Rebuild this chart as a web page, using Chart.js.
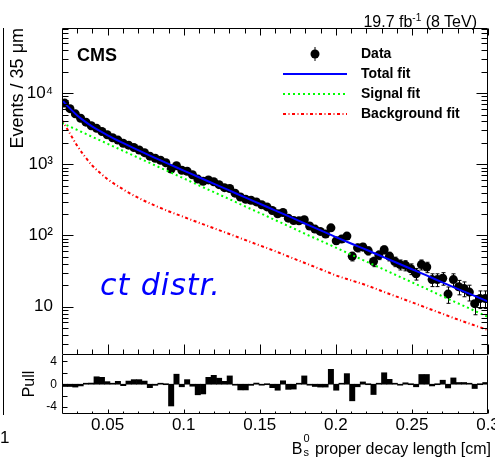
<!DOCTYPE html>
<html lang="en">
<head>
<meta charset="UTF-8">
<title>Bs proper decay length</title>
<script src="https://cdn.jsdelivr.net/npm/chart.js"></script>
<style>
  body { margin: 0; background: #fff; font-family: 'Liberation Sans', Arial, sans-serif; }
  #wrap { position: relative; width: 495px; height: 462px; overflow: hidden; background: #fff; }
  canvas { position: absolute; left: 0; }
  .txt { position: absolute; white-space: nowrap; color: #000; }
  .leg { position: absolute; left: 361px; font-size: 14px; font-weight: bold; line-height: 20px; }
  .rot { position: absolute; transform-origin: 0 0; white-space: nowrap; height: 20px; line-height: 20px; }
</style>
</head>
<body>
<div id="wrap">
  <canvas id="mainChart" width="495" height="360" style="top:0"></canvas>
  <canvas id="pullChart" width="495" height="122" style="top:340px"></canvas>

  <!-- piece of the neighbouring panel on the left -->
  <div style="position:absolute;left:3px;top:28px;height:387px;border-left:1px solid #000"></div>
  <div class="txt" style="left:0;top:428px;font-size:17px;line-height:20px">1</div>

  <div class="txt" style="right:18px;top:8px;font-size:16px;line-height:20px">19.7 fb<sup style="font-size:10px">-1</sup> (8 TeV)</div>
  <div class="txt" style="left:77px;top:44px;font-size:18px;font-weight:bold;line-height:22px">CMS</div>

  <svg style="position:absolute;left:278px;top:44px" width="72" height="80">
    <line x1="37" y1="3" x2="37" y2="17" stroke="#000" stroke-width="1"/>
    <circle cx="37" cy="10" r="4.5" fill="#000"/>
    <line x1="5" y1="30" x2="69" y2="30" stroke="#0000ff" stroke-width="2"/>
    <line x1="5" y1="50" x2="69" y2="50" stroke="#00ff00" stroke-width="2" stroke-dasharray="2 3"/>
    <line x1="5" y1="70" x2="69" y2="70" stroke="#ff0000" stroke-width="2" stroke-dasharray="3 2.5 1 2.5"/>
  </svg>
  <div class="txt leg" style="top:43px">Data</div>
  <div class="txt leg" style="top:63px">Total fit</div>
  <div class="txt leg" style="top:83px">Signal fit</div>
  <div class="txt leg" style="top:103px">Background fit</div>

  <div class="txt" style="left:100px;top:270px;font-family:'DejaVu Sans',sans-serif;font-style:italic;font-size:30px;line-height:30px;letter-spacing:1px;color:#0000ff">ct distr.</div>

  <div class="rot" style="left:17px;top:28px;width:160px;text-align:right;font-size:18px;transform:rotate(-90deg) translate(-160px,-10px)">Events / 35 μm</div>
  <div class="rot" style="left:29px;top:354px;width:60px;text-align:center;font-size:16px;transform:rotate(-90deg) translate(-60px,-10px)">Pull</div>

  <div class="txt" style="right:4px;top:438px;font-size:16px;line-height:20px">B<span style="display:inline-block;position:relative;width:8px;height:16px"><span style="position:absolute;left:1px;top:-5px;font-size:11px;line-height:11px">0</span><span style="position:absolute;left:1px;top:9px;font-size:11px;line-height:11px">s</span></span> proper decay length [cm]</div>
</div>

<script>
  // bins of 35 um, centres in cm
  const binCenters = [
    0.02175, 0.02525, 0.02875, 0.03225, 0.03575, 0.03925, 0.04275, 0.04625, 0.04975, 0.05325,
    0.05675, 0.06025, 0.06375, 0.06725, 0.07075, 0.07425, 0.07775, 0.08125, 0.08475, 0.08825,
    0.09175, 0.09525, 0.09875, 0.10225, 0.10575, 0.10925, 0.11275, 0.11625, 0.11975, 0.12325,
    0.12675, 0.13025, 0.13375, 0.13725, 0.14075, 0.14425, 0.14775, 0.15125, 0.15475, 0.15825,
    0.16175, 0.16525, 0.16875, 0.17225, 0.17575, 0.17925, 0.18275, 0.18625, 0.18975, 0.19325,
    0.19675, 0.20025, 0.20375, 0.20725, 0.21075, 0.21425, 0.21775, 0.22125, 0.22475, 0.22825,
    0.23175, 0.23525, 0.23875, 0.24225, 0.24575, 0.24925, 0.25275, 0.25625, 0.25975, 0.26325,
    0.26675, 0.27025, 0.27375, 0.27725, 0.28075, 0.28425, 0.28775, 0.29125, 0.29475, 0.29825
  ];
  const events = [
    7244, 6050, 5122, 4437, 3914, 3479, 3199, 2895, 2599, 2363,
    2191, 1977, 1856, 1720, 1588, 1457, 1302, 1218, 1138, 1052,
    856, 957, 826, 800, 712, 620, 577, 604, 569, 518,
    470, 457, 393, 347, 322, 312, 296, 270, 252, 224,
    202, 210, 175, 162, 161, 166, 136, 123, 114, 105,
    128, 84, 89, 98, 51, 67, 69, 61, 43, 53,
    63, 51, 43, 39, 38, 34, 29, 39, 36, 24,
    24, 25, 15, 24, 19, 18, 16, 11, 13, 13
  ];
  const pulls = [
    -0.4, -0.4, -0.5, -0.3, 0.1, 0.2, 1.3, 1.2, 0.45, 0.05,
    0.5, -0.25, 0.55, 0.8, 0.8, 0.55, -0.6, -0.2, 0.1, 0,
    -3.8, 1.75, -0.45, 0.8, -0.35, -1.85, -1.7, 1.2, 1.55, 1.05,
    0.5, 1.45, -0.1, -1.0, -1.0, -0.2, 0.2, -0.1, 0, -0.6,
    -1.05, 0.6, -0.9, -0.85, 0.05, 1.45, -0.15, -0.4, -0.5, -0.5,
    2.6, -1.05, 0.1, 1.85, -2.9, -0.45, 0.4, 0, -1.8, 0.05,
    2.0, 0.85, 0.05, -0.1, 0.25, 0, -0.45, 1.7, 1.7, -0.3,
    0, 0.7, -0.65, 1.1, 0.3, 0.3, 0.15, -0.75, 0, 0.3
  ];

  // fit curves sampled along x
  const fitX = [0.02, 0.025, 0.03, 0.035, 0.04, 0.045, 0.05, 0.06, 0.07, 0.08, 0.09, 0.10,
    0.11, 0.12, 0.13, 0.14, 0.15, 0.16, 0.17, 0.18, 0.19, 0.20, 0.21, 0.22, 0.23, 0.24,
    0.25, 0.26, 0.27, 0.28, 0.29, 0.30];
  const totalFit = [7971, 6152, 4861, 4004, 3382, 2932, 2558, 1999, 1580, 1260, 1012, 816,
    657, 531, 429, 345, 279, 225, 182, 146, 118, 95, 77, 63, 51, 41.3,
    33.5, 27.2, 21.9, 17.8, 14.5, 11.8];
  const signalFit = [3802, 3398, 3041, 2716, 2427, 2173, 1941, 1552, 1241, 991, 793, 634,
    506, 405, 324, 258, 207, 165, 132, 105, 84.3, 67.4, 53.8, 43.0, 34.4, 27.5,
    22.0, 17.6, 14.0, 11.2, 8.97, 7.16];
  const bkgFit = [4169, 2754, 1820, 1288, 955, 759, 617, 447, 339, 269, 219, 182,
    151, 126, 105, 87.1, 72.4, 60.3, 49.5, 40.7, 33.5, 27.5, 23.4, 20.0, 16.6, 13.8,
    11.5, 9.55, 7.94, 6.61, 5.56, 4.68];

  // axes
  const xMajor = [0.05, 0.1, 0.15, 0.2, 0.25, 0.3];
  const xLabels = ['0.05', '0.1', '0.15', '0.2', '0.25', '0.3'];
  const xMinor = [0.03, 0.04, 0.06, 0.07, 0.08, 0.09, 0.11, 0.12, 0.13, 0.14, 0.16, 0.17,
    0.18, 0.19, 0.21, 0.22, 0.23, 0.24, 0.26, 0.27, 0.28, 0.29];
  const yMajor = [10, 100, 1000, 10000];
  const yLabels = ['10', '10²', '10³', '10⁴'];
  const yMinor = [3, 4, 5, 6, 7, 8, 9, 20, 30, 40, 50, 60, 70, 80, 90,
    200, 300, 400, 500, 600, 700, 800, 900, 2000, 3000, 4000, 5000, 6000, 7000, 8000, 9000,
    20000, 30000, 40000, 50000, 60000, 70000, 80000];
  const pullTicks = [-4, -2, 0, 2, 4];
  const pullLabels = ['-4', '-2', '0', '2', '4'];

  const FONT = "'Liberation Sans', Arial, sans-serif";

  // ROOT style frame with inward ticks
  const framePlugin = {
    id: 'frame',
    afterDraw(chart, args, o) {
      const { ctx, chartArea: a, scales } = chart;
      const L = Math.round(a.left) + 0.5, R = Math.round(a.right) - 0.5;
      const T = Math.round(a.top) + 0.5, B = Math.round(a.bottom) - 0.5;
      ctx.save();
      ctx.strokeStyle = '#000';
      ctx.lineWidth = 1;
      ctx.beginPath();
      ctx.moveTo(L, o.top ? T : T - 0.5);
      ctx.lineTo(L, B); ctx.lineTo(R, B); ctx.lineTo(R, T);
      if (o.top) ctx.lineTo(L, T);
      const xt = (vals, len, lenTop) => vals.forEach(v => {
        const p = Math.round(scales.x.getPixelForValue(v)) + 0.5;
        ctx.moveTo(p, B); ctx.lineTo(p, B - len);
        if (lenTop) { ctx.moveTo(p, T); ctx.lineTo(p, T + lenTop); }
      });
      const yt = (vals, len, lenRight) => vals.forEach(v => {
        const p = Math.round(scales.y.getPixelForValue(v)) + 0.5;
        ctx.moveTo(L, p); ctx.lineTo(L + len, p);
        if (lenRight) { ctx.moveTo(R, p); ctx.lineTo(R - lenRight, p); }
      });
      xt(xMajor, o.xMaj[0], o.xMaj[1]);
      xt(xMinor, o.xMin[0], o.xMin[1]);
      yt(o.yMajor, o.yMaj[0], o.yMaj[1]);
      if (o.yMinor) yt(o.yMinor, o.yMin[0], o.yMin[1]);
      ctx.stroke();
      ctx.restore();
    }
  };

  const errorBars = {
    id: 'errorBars',
    afterDatasetDraw(chart, args) {
      if (args.index !== 0) return;
      const { ctx, chartArea: a, scales: { x, y } } = chart;
      ctx.save();
      ctx.beginPath();
      ctx.rect(a.left, a.top, a.right - a.left, a.bottom - a.top);
      ctx.clip();
      ctx.strokeStyle = '#000';
      ctx.lineWidth = 1;
      ctx.beginPath();
      events.forEach((n, i) => {
        const e = Math.sqrt(n);
        const px = Math.round(x.getPixelForValue(binCenters[i])) + 0.5;
        const y1 = y.getPixelForValue(n + e), y2 = y.getPixelForValue(n - e);
        ctx.moveTo(px, y1); ctx.lineTo(px, y2);
        ctx.moveTo(px - 2, y1); ctx.lineTo(px + 2, y1);
        ctx.moveTo(px - 2, y2); ctx.lineTo(px + 2, y2);
      });
      ctx.stroke();
      ctx.restore();
    }
  };

  const noPad = s => { s.paddingTop = 0; s.paddingBottom = 0; s.paddingLeft = 0; s.paddingRight = 0; };
  const fitLine = (label, vals, color, dash, order) => ({
    label, data: fitX.map((x, i) => ({ x, y: vals[i] })), showLine: true,
    borderColor: color, borderWidth: 2, borderDash: dash, pointRadius: 0,
    cubicInterpolationMode: 'monotone', fill: false, order
  });

  new Chart(document.getElementById('mainChart'), {
    type: 'scatter',
    data: {
      datasets: [
        { label: 'Data', data: binCenters.map((x, i) => ({ x, y: events[i] })),
          pointRadius: 4.5, pointBorderWidth: 0, backgroundColor: '#000', borderColor: '#000', order: 4 },
        fitLine('Total fit', totalFit, '#0000ff', [], 1),
        fitLine('Signal fit', signalFit, '#00ff00', [2, 3], 2),
        fitLine('Background fit', bkgFit, '#ff0000', [3, 2.5, 1, 2.5], 3)
      ]
    },
    options: {
      responsive: false, animation: false, events: [],
      layout: { padding: { top: 28, right: 7, bottom: 5, left: 0 } },
      plugins: {
        legend: { display: false }, tooltip: { enabled: false },
        frame: { top: true, yMajor, yMinor, xMaj: [10, 7], xMin: [5, 5], yMaj: [11, 11], yMin: [6, 6] }
      },
      scales: {
        x: { type: 'linear', min: 0.02, max: 0.3, display: false },
        y: {
          type: 'logarithmic', min: 2.09, max: 82300, bounds: 'data',
          grid: { display: false, drawTicks: false }, border: { display: false },
          ticks: { color: '#000', font: { family: FONT, size: 17 }, padding: 9,
            callback: v => yLabels[yMajor.indexOf(v)] },
          afterBuildTicks: s => { s.ticks = yMajor.map(v => ({ value: v })); },
          afterFit: s => { s.width = 62; noPad(s); }
        }
      }
    },
    plugins: [errorBars, framePlugin]
  });

  new Chart(document.getElementById('pullChart'), {
    type: 'bar',
    data: {
      datasets: [{ data: binCenters.map((x, i) => ({ x, y: pulls[i] })),
        backgroundColor: '#000', borderWidth: 0, barPercentage: 1, categoryPercentage: 1, minBarLength: 1 }]
    },
    options: {
      responsive: false, animation: false, events: [],
      layout: { padding: { top: 15, right: 7, bottom: 0, left: 0 } },
      plugins: {
        legend: { display: false }, tooltip: { enabled: false },
        frame: { top: false, yMajor: pullTicks, xMaj: [4, 0], xMin: [2, 0], yMaj: [5, 0] }
      },
      scales: {
        x: {
          type: 'linear', min: 0.02, max: 0.3, offset: false,
          grid: { display: false, drawTicks: false }, border: { display: false },
          ticks: { color: '#000', font: { family: FONT, size: 17 }, padding: 1, autoSkip: false, maxRotation: 0,
            callback: v => xLabels[xMajor.indexOf(v)] },
          afterBuildTicks: s => { s.ticks = xMajor.map(v => ({ value: v })); },
          afterFit: s => { s.height = 48; noPad(s); }
        },
        y: {
          min: -5.2, max: 5.1,
          grid: { display: false, drawTicks: false }, border: { display: false },
          ticks: { color: '#000', font: { family: FONT, size: 12 }, padding: 5,
            callback: v => pullLabels[pullTicks.indexOf(v)] },
          afterBuildTicks: s => { s.ticks = pullTicks.map(v => ({ value: v })); },
          afterFit: s => { s.width = 62; noPad(s); }
        }
      }
    },
    plugins: [framePlugin]
  });
</script>
</body>
</html>
